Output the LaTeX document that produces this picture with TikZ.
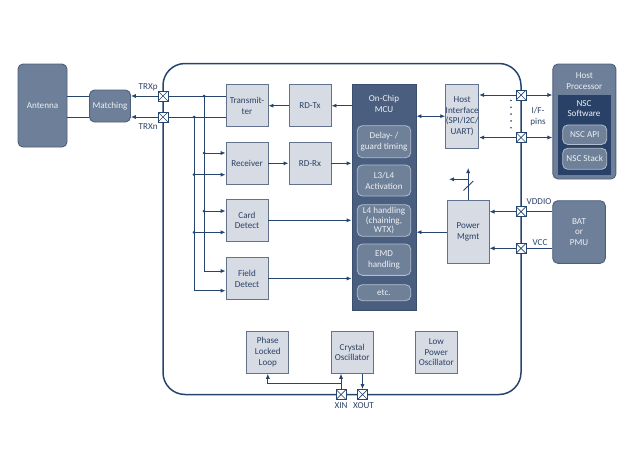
\documentclass[tikz,border=0pt]{standalone}
\usepackage{fontspec}
\setmainfont{Carlito}
\usetikzlibrary{arrows.meta}
\definecolor{navy}{HTML}{26456E}
\definecolor{lfill}{HTML}{D6DBE4}
\definecolor{lborder}{HTML}{62728E}
\definecolor{dfill}{HTML}{6E7F99}
\definecolor{dborder}{HTML}{4E5F7C}
\definecolor{mfill}{HTML}{4A5F80}
\definecolor{mborder}{HTML}{3B4E6E}
\definecolor{sfill}{HTML}{6F8099}
\definecolor{sborder}{HTML}{B3BDCC}
\definecolor{nfill}{HTML}{2A4167}
\definecolor{tdark}{HTML}{2D4266}
\definecolor{tlight}{HTML}{EEF0F4}
\begin{document}
\begin{tikzpicture}[x=1pt,y=-1pt,
  font=\fontsize{9.1}{10.8}\selectfont,
  line width=0.9pt,
  lbox/.style={draw=lborder,fill=lfill,text=tdark,align=center,inner sep=0pt,line width=0.9pt},
  dbox/.style={draw=dborder,fill=dfill,text=tlight,align=center,inner sep=0pt,rounded corners=5pt,line width=0.9pt},
  mbox/.style={draw=mborder,fill=mfill,inner sep=0pt,line width=0.9pt},
  sbox/.style={draw=sborder,fill=sfill,text=tlight,align=center,inner sep=0pt,rounded corners=5pt,line width=0.8pt},
  nbox/.style={draw=nfill,fill=nfill,inner sep=0pt},
  conn/.style={draw=navy,line width=0.9pt},
  arr/.style={conn,-{Latex[length=5pt,width=4.2pt]}},
  darr/.style={conn,{Latex[length=5pt,width=4.2pt]}-{Latex[length=5pt,width=4.2pt]}},
  pin/.style={draw=navy,fill=white,minimum size=10pt,inner sep=0pt,line width=0.8pt,
    path picture={\draw[navy,line width=0.7pt] (path picture bounding box.north west) -- (path picture bounding box.south east)
      (path picture bounding box.south west) -- (path picture bounding box.north east);}},
  lbl/.style={text=tdark,align=center,inner sep=0pt},
  jdot/.style={circle,fill=navy,inner sep=0pt,minimum size=3pt}
]
\useasboundingbox (0,0) rectangle (635,471);

% chip outline
\draw[navy,line width=1.5pt,rounded corners=22pt] (163,63.5) rectangle (521,394.5);

% external blocks
\node[dbox,minimum width=49pt,minimum height=83pt] (ant) at (42.5,105.5) {Antenna};
\node[dbox,minimum width=41pt,minimum height=32pt] (match) at (110,106) {Matching};
\node[dbox,minimum width=63pt,minimum height=115pt] (hp) at (584.4,121.5) {};
\node[text=tlight,align=center,inner sep=0pt] (hpt) at (584.4,81) {Host\\Processor};
\node[nbox,minimum width=52pt,minimum height=79pt] (nsw) at (584,134.5) {};
\node[text=tlight,align=center,inner sep=0pt] (nswt) at (584,108.5) {NSC\\Software};
\node[sbox,minimum width=44pt,minimum height=19.5pt] (napi) at (584.7,134.7) {NSC API};
\node[sbox,minimum width=44pt,minimum height=21pt] (nstk) at (584.7,158.8) {NSC Stack};
\node[dbox,minimum width=52.6pt,minimum height=62.6pt] (bat) at (579,232) {BAT\\or\\PMU};

% internal light blocks
\node[lbox,minimum width=42pt,minimum height=42pt] (tx) at (247,105.7) {Transmit-\\ter};
\node[lbox,minimum width=42pt,minimum height=42pt] (rdtx) at (310,105.7) {RD-Tx};
\node[lbox,minimum width=42pt,minimum height=42pt] (rx) at (247,163.3) {Receiver};
\node[lbox,minimum width=42pt,minimum height=42pt] (rdrx) at (310,163.3) {RD-Rx};
\node[lbox,minimum width=42pt,minimum height=42pt] (card) at (247,220.3) {Card\\Detect};
\node[lbox,minimum width=42pt,minimum height=41.6pt] (field) at (247,278.5) {Field\\Detect};
\node[lbox,minimum width=29.7pt,minimum height=63.7pt] (hif) at (462.2,116.2) {Host\\Interface\\(SPI/I2C/\\UART)};
\node[lbox,minimum width=41.7pt,minimum height=63pt] (pwr) at (468.2,232.2) {Power\\Mgmt};
\node[lbox,minimum width=42pt,minimum height=42pt] (pll) at (267.8,352.3) {Phase\\Locked\\Loop};
\node[lbox,minimum width=42pt,minimum height=42pt] (xo) at (352.2,352.3) {Crystal\\Oscillator};
\node[lbox,minimum width=42pt,minimum height=42pt] (lpo) at (436.3,352.3) {Low\\Power\\Oscillator};

% MCU
\node[mbox,minimum width=64pt,minimum height=226.4pt] (mcu) at (384,197.5) {};
\node[text=tlight,align=center,inner sep=0pt] (mcut) at (384,103.5) {On-Chip\\MCU};
\node[sbox,minimum width=53.4pt,minimum height=32pt] (dly) at (384,141.7) {Delay- /\\guard timing};
\node[sbox,minimum width=53.4pt,minimum height=31pt] (l34) at (384,180.5) {L3/L4\\Activation};
\node[sbox,minimum width=53.4pt,minimum height=31.6pt,font=\fontsize{9.1}{9.9}\selectfont] (l4h) at (384,220.5) {L4 handling\\(chaining,\\WTX)};
\node[sbox,minimum width=53.4pt,minimum height=31.3pt] (emd) at (384,259.7) {EMD\\handling};
\node[sbox,minimum width=53.4pt,minimum height=16pt] (etc) at (384,292.7) {etc.};

% pins
\node[pin] (ptp) at (163,96) {};
\node[pin] (ptn) at (163,117) {};
\node[pin] (pif1) at (521,95) {};
\node[pin] (pif2) at (521,137.5) {};
\node[pin] (pvdd) at (521,211.7) {};
\node[pin] (pvcc) at (521,248.3) {};
\node[pin] (pxin) at (341,394.5) {};
\node[pin] (pxout) at (362.5,394.5) {};

% pin labels
\node[lbl,anchor=east] (ltp) at (158,87) {TRXp};
\node[lbl,anchor=east] (ltn) at (158,126.7) {TRXn};
\node[lbl] (lif) at (538,116.5) {I/F-\\pins};
\node[lbl] (lvdd) at (539,201.7) {VDDIO};
\node[lbl] (lvcc) at (540,242.7) {VCC};
\node[lbl] (lxin) at (341,405.5) {XIN};
\node[lbl] (lxout) at (363.5,405.5) {XOUT};

% antenna - matching
\draw[conn] (ant.east |- ptp) -- (match.west |- ptp);
\draw[conn] (ant.east |- ptn) -- (match.west |- ptn);
\draw[arr] (ptp.west) -- (match.east |- ptp);
\draw[arr] (ptn.west) -- (match.east |- ptn);

% buses
\coordinate (ba0) at (204,96);
\coordinate (ba1) at (204,153);
\coordinate (ba2) at (204,211);
\coordinate (ba3) at (204,271);
\coordinate (bb0) at (194,117);
\coordinate (bb1) at (194,174.7);
\coordinate (bb2) at (194,232.3);
\coordinate (bb3) at (194,290.7);
\draw[conn] (ptp.east) -- (tx.west |- ptp);
\draw[conn] (ptn.east) -- (tx.west |- ptn);
\draw[conn] (ba0) -- (ba3);
\draw[conn] (bb0) -- (bb3);
\draw[arr] (ba1) -- (rx.west |- ba1);
\draw[arr] (bb1) -- (rx.west |- bb1);
\draw[arr] (ba2) -- (card.west |- ba2);
\draw[arr] (bb2) -- (card.west |- bb2);
\draw[arr] (ba3) -- (field.west |- ba3);
\draw[arr] (bb3) -- (field.west |- bb3);
\foreach \c in {ba0,ba1,ba2,bb0,bb1,bb2} \node[jdot] at (\c) {};

% data path
\draw[arr] (rdtx.west) -- (tx.east);
\draw[arr] (mcu.west |- rdtx) -- (rdtx.east);
\draw[arr] (rx.east) -- (rdrx.west);
\draw[arr] (rdrx.east) -- (mcu.west |- rdrx);
\draw[arr] (card.east) -- (mcu.west |- card);
\draw[arr] (field.east) -- (mcu.west |- field);
\draw[darr] (mcu.east |- hif) -- (hif.west);

% host interface pins
\draw[arr] (pif1.west) -- (hif.east |- pif1);
\draw[arr] (pif1.east) -- (hp.west |- pif1);
\draw[arr] (pif2.west) -- (hif.east |- pif2);
\draw[arr] (pif2.east) -- (hp.west |- pif2);
\foreach \yy in {100.5,107.3,114.1,120.9,127.7} \fill[navy] (511,\yy) circle (0.9pt);

% power
\draw[arr] (pwr.west) -- (mcu.east |- pwr);
\coordinate (ptop) at (468.2,168);
\coordinate (pbr) at (468.2,179.3);
\coordinate (pbl) at (449,179.3);
\draw[arr] (pwr.north) -- (ptop);
\draw[arr] (pbr) -- (pbl);
\draw[conn] (463.5,190.5) -- (473.3,181);
\draw[conn] (bat.west |- pvdd) -- (pvdd.east);
\draw[conn] (bat.west |- pvcc) -- (pvcc.east);
\draw[arr] (pvdd.west) -- (pwr.east |- pvdd);
\draw[arr] (pvcc.west) -- (pwr.east |- pvcc);

% clocks
\coordinate (xj) at (341,383);
\draw[arr] (pxin.north) -- (xo.south -| pxin);
\draw[arr] (xj) -| (pll.south);
\draw[arr] (xo.south -| pxout) -- (pxout.north);
\end{tikzpicture}
\end{document}
